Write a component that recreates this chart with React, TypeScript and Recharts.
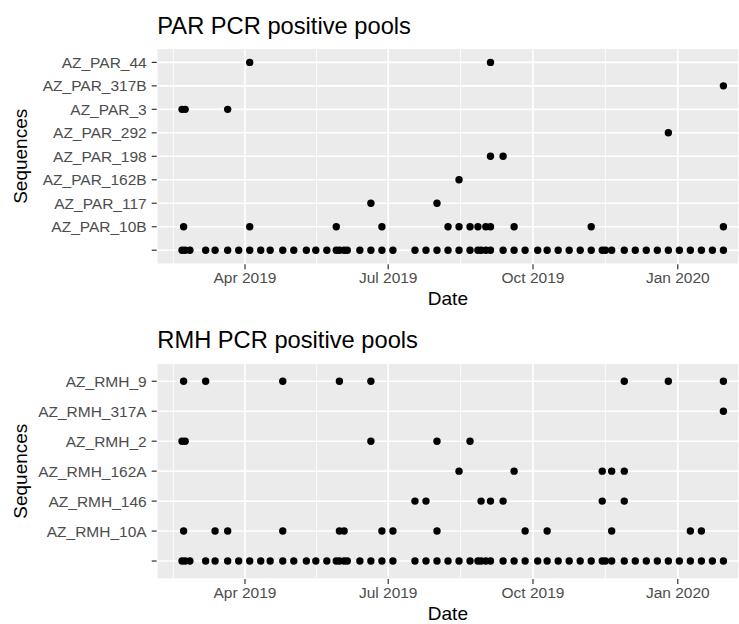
import React from "react";
import {
  ScatterChart,
  Scatter,
  XAxis,
  YAxis,
  CartesianGrid,
  ReferenceLine,
} from "recharts";

// ---------- data ----------
// weekly pool sampling dates (the unlabeled bottom row of each panel)
const POOL_DATES = [
  "2019-02-20", "2019-02-22", "2019-02-25", "2019-03-07", "2019-03-13", "2019-03-21",
  "2019-03-28", "2019-04-04", "2019-04-11", "2019-04-17", "2019-04-25", "2019-05-02",
  "2019-05-10", "2019-05-16", "2019-05-23", "2019-05-29", "2019-05-31", "2019-06-03",
  "2019-06-05", "2019-06-13", "2019-06-20", "2019-06-27", "2019-07-04", "2019-07-18",
  "2019-07-25", "2019-08-01", "2019-08-08", "2019-08-15", "2019-08-22", "2019-08-27",
  "2019-08-29", "2019-09-01", "2019-09-04", "2019-09-12", "2019-09-19", "2019-09-26",
  "2019-10-04", "2019-10-10", "2019-10-17", "2019-10-24", "2019-10-31", "2019-11-07",
  "2019-11-14", "2019-11-16", "2019-11-20", "2019-11-28", "2019-12-05", "2019-12-12",
  "2019-12-19", "2019-12-26", "2020-01-02", "2020-01-09", "2020-01-16", "2020-01-23",
  "2020-01-30",
];

// PAR panel
const PAR_LABELS = [
  "", "AZ_PAR_10B", "AZ_PAR_117", "AZ_PAR_162B", "AZ_PAR_198",
  "AZ_PAR_292", "AZ_PAR_3", "AZ_PAR_317B", "AZ_PAR_44",
];
const PAR_10B = [
  "2019-02-21", "2019-04-04", "2019-05-29", "2019-06-27", "2019-08-08", "2019-08-15",
  "2019-08-22", "2019-08-27", "2019-09-01", "2019-09-04", "2019-09-19", "2019-11-07",
  "2020-01-30",
];
const PAR_117 = ["2019-06-20", "2019-08-01"];
const PAR_162B = ["2019-08-15"];
const PAR_198 = ["2019-09-04", "2019-09-12"];
const PAR_292 = ["2019-12-26"];
const PAR_3 = ["2019-02-20", "2019-02-22", "2019-03-21"];
const PAR_317B = ["2020-01-30"];
const PAR_44 = ["2019-04-04", "2019-09-04"];

// RMH panel
const RMH_LABELS = [
  "", "AZ_RMH_10A", "AZ_RMH_146", "AZ_RMH_162A", "AZ_RMH_2", "AZ_RMH_317A", "AZ_RMH_9",
];
const RMH_10A = [
  "2019-02-21", "2019-03-13", "2019-03-21", "2019-04-25", "2019-05-31", "2019-06-03",
  "2019-06-27", "2019-07-04", "2019-08-01", "2019-09-26", "2019-10-10", "2019-11-20",
  "2020-01-09", "2020-01-16",
];
const RMH_146 = [
  "2019-07-18", "2019-07-25", "2019-08-29", "2019-09-04", "2019-09-12", "2019-11-14",
  "2019-11-28",
];
const RMH_162A = ["2019-08-15", "2019-09-19", "2019-11-14", "2019-11-20", "2019-11-28"];
const RMH_2 = ["2019-02-20", "2019-02-22", "2019-06-20", "2019-08-01", "2019-08-22"];
const RMH_317A = ["2020-01-30"];
const RMH_9 = [
  "2019-02-21", "2019-03-07", "2019-04-25", "2019-05-31", "2019-06-20", "2019-11-28",
  "2019-12-26", "2020-01-30",
];

// axis ticks
const X_TICK_DATES = ["2019-04-01", "2019-07-01", "2019-10-01", "2020-01-01"];
const X_MINOR_DATES = ["2019-02-14T12:00:00Z", "2019-05-16T12:00:00Z", "2019-08-16T00:00:00Z", "2019-11-16T00:00:00Z"];
const X_DOMAIN_DATES = ["2019-02-03T21:36:00Z", "2020-02-08T21:36:00Z"];
const MONTHS = ["Jan", "Feb", "Mar", "Apr", "May", "Jun", "Jul", "Aug", "Sep", "Oct", "Nov", "Dec"];

// ---------- helpers ----------
const FONT = '"Liberation Sans", Arial, Helvetica, sans-serif';
const toTs = (d: string) => Date.parse(d);
const X_TICKS = X_TICK_DATES.map(toTs);
const X_MINOR = X_MINOR_DATES.map(toTs);
const X_DOMAIN = X_DOMAIN_DATES.map(toTs);
const fmtDate = (v: number) => {
  const d = new Date(v);
  return `${MONTHS[d.getUTCMonth()]} ${d.getUTCFullYear()}`;
};

const buildData = (rows: string[][]) =>
  rows.flatMap((dates, i) => dates.map((d) => ({ t: toTs(d), y: i })));

const PAR_DATA = buildData([
  POOL_DATES, PAR_10B, PAR_117, PAR_162B, PAR_198, PAR_292, PAR_3, PAR_317B, PAR_44,
]);
const RMH_DATA = buildData([
  POOL_DATES, RMH_10A, RMH_146, RMH_162A, RMH_2, RMH_317A, RMH_9,
]);

const Dot = (props: any) => {
  if (props.cx == null || props.cy == null) return null;
  return <circle cx={props.cx} cy={props.cy} r={3.7} fill="#000000" />;
};

type PanelProps = {
  top: number;
  height: number;
  marginTop: number;
  xAxisHeight: number;
  labels: string[];
  data: { t: number; y: number }[];
};

function Panel({ top, height, marginTop, xAxisHeight, labels, data }: PanelProps) {
  const n = labels.length;
  const yTicks = labels.map((_, i) => i);
  return (
    <div style={{ position: "absolute", left: 0, top, width: 739, height }}>
      <ScatterChart
        width={739}
        height={height}
        margin={{ top: marginTop, right: 0, bottom: 0, left: 0 }}
      >
        <CartesianGrid fill="#EBEBEB" stroke="#FFFFFF" strokeWidth={1.6} />
        {X_MINOR.map((m) => (
          <ReferenceLine key={m} x={m} stroke="#FFFFFF" strokeWidth={0.8} />
        ))}
        <XAxis
          type="number"
          dataKey="t"
          domain={X_DOMAIN}
          allowDataOverflow
          ticks={X_TICKS}
          interval={0}
          tickFormatter={fmtDate}
          axisLine={false}
          tickLine={{ stroke: "#333333", strokeWidth: 1.2 }}
          tickSize={5}
          tickMargin={3}
          height={xAxisHeight}
          tick={{ fill: "#4D4D4D", fontSize: 15.5, fontFamily: FONT }}
        />
        <YAxis
          type="number"
          dataKey="y"
          domain={[-0.6, n - 1 + 0.6]}
          allowDataOverflow
          ticks={yTicks}
          interval={0}
          tickFormatter={(v: number) => labels[v] ?? ""}
          axisLine={false}
          tickLine={{ stroke: "#333333", strokeWidth: 1.2 }}
          tickSize={5}
          tickMargin={5}
          width={156.7}
          tick={{ fill: "#4D4D4D", fontSize: 15.5, fontFamily: FONT }}
        />
        <Scatter data={data} shape={Dot} isAnimationActive={false} />
      </ScatterChart>
    </div>
  );
}

export default function App() {
  return (
    <div
      style={{
        position: "absolute",
        left: 0,
        top: 0,
        width: 739,
        height: 624,
        overflow: "hidden",
        background: "#FFFFFF",
      }}
    >
      <Panel top={0} height={312} marginTop={48.3} xAxisHeight={47.7} labels={PAR_LABELS} data={PAR_DATA} />
      <Panel top={312} height={312} marginTop={51.3} xAxisHeight={45} labels={RMH_LABELS} data={RMH_DATA} />
      <svg
        width={739}
        height={624}
        style={{ position: "absolute", left: 0, top: 0, pointerEvents: "none" }}
      >
        <g fontFamily={FONT} fill="#000000">
          <text x={157.3} y={33.5} fontSize={23.7}>PAR PCR positive pools</text>
          <text x={157.3} y={348.3} fontSize={23.7}>RMH PCR positive pools</text>
          <text x={447.9} y={305.3} fontSize={19} textAnchor="middle">Date</text>
          <text x={447.9} y={620} fontSize={19} textAnchor="middle">Date</text>
          <text x={0} y={0} fontSize={19} textAnchor="middle" transform="translate(27,156.3) rotate(-90)">Sequences</text>
          <text x={0} y={0} fontSize={19} textAnchor="middle" transform="translate(27,471.2) rotate(-90)">Sequences</text>
        </g>
      </svg>
    </div>
  );
}
